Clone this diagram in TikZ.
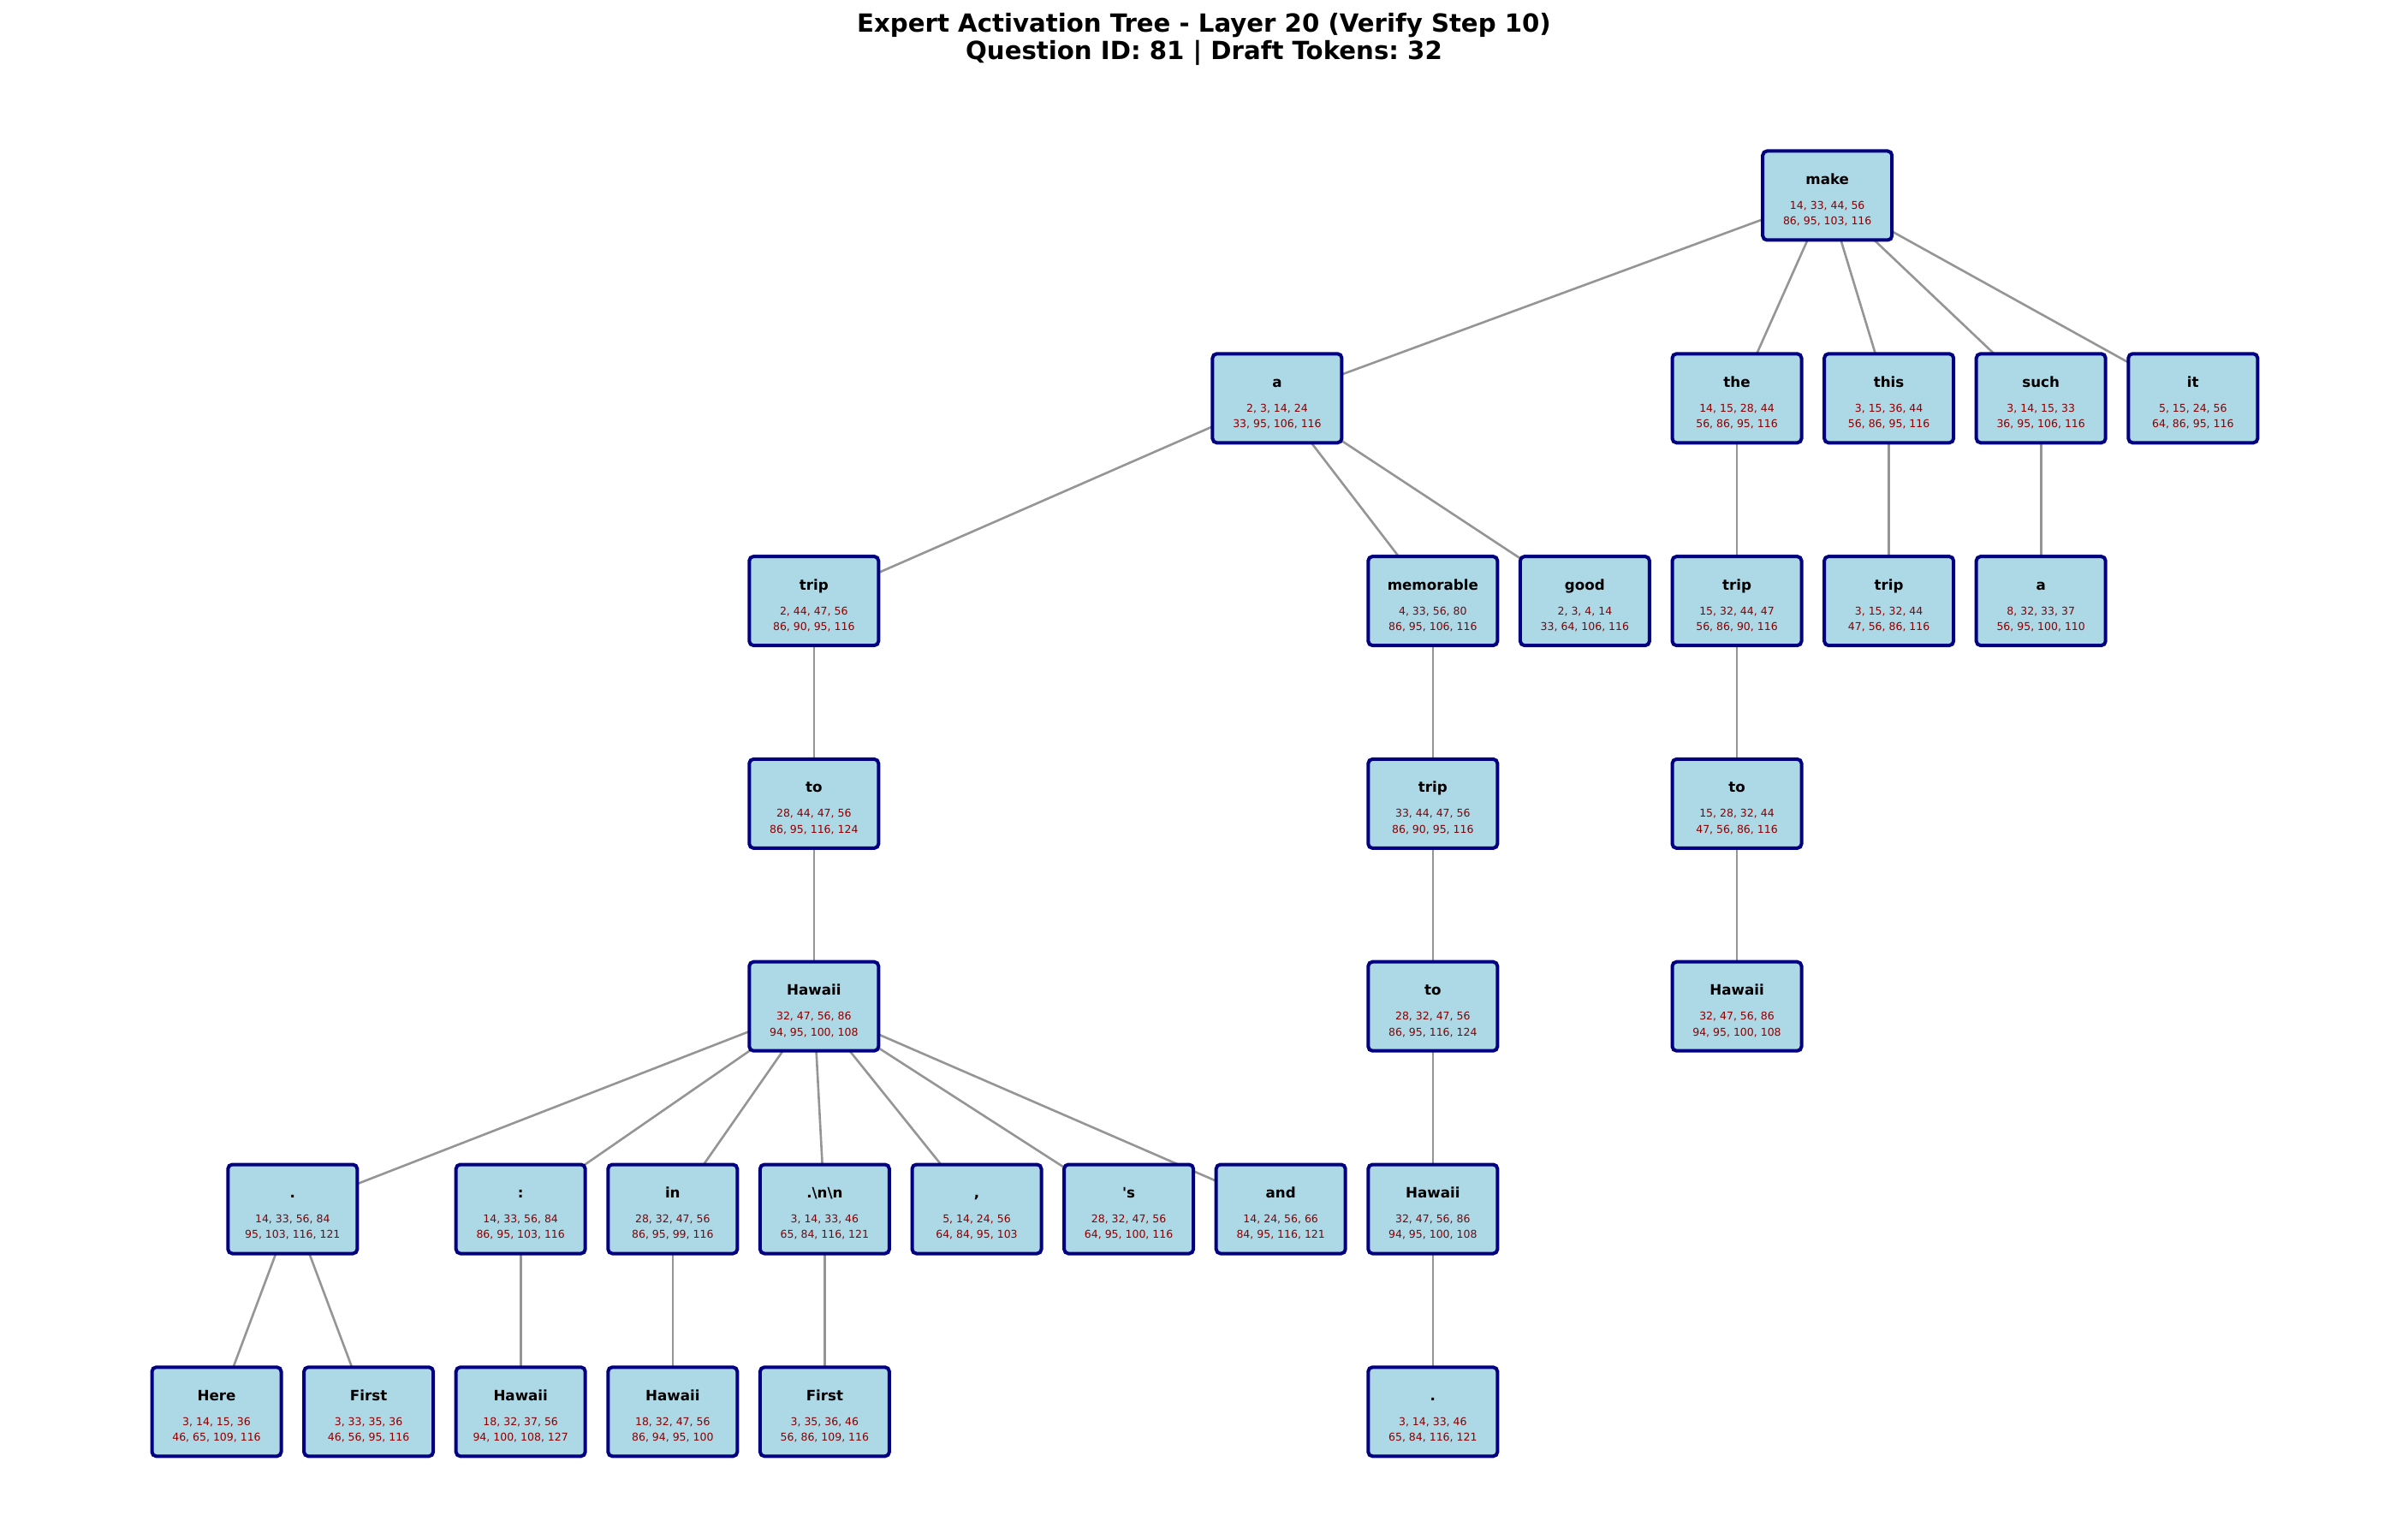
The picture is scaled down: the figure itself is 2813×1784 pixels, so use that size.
\documentclass[tikz,border=0pt]{standalone}
\usepackage{fontspec}
\setmainfont{DejaVu Sans}[Ligatures=TeXOff]
\usetikzlibrary{backgrounds}
\frenchspacing
\definecolor{boxfill}{HTML}{ADD8E6}
\definecolor{boxedge}{HTML}{000080}
\definecolor{numred}{HTML}{8B0000}
\definecolor{edgegray}{HTML}{959595}
\tikzset{
  tok/.style={draw=boxedge, fill=boxfill, line width=4pt, rounded corners=5pt,
    minimum width=151pt, minimum height=104pt, inner sep=0pt},
  wordlbl/.style={anchor=base, inner sep=0pt, font=\fontsize{16.7}{20}\selectfont\bfseries},
  numlbl/.style={anchor=base, inner sep=0pt, text=numred, font=\fontsize{12.5}{15}\selectfont},
  titlelbl/.style={anchor=base, inner sep=0pt, font=\fontsize{29.2}{35}\selectfont\bfseries},
  link/.style={draw=edgegray, line width=2.6pt}
}
% one token box: name, column, depth, token, two lines of expert ids
\newcommand{\tnode}[6]{%
  \node[tok] (#1) at ({253+177.6*#2},{228.5+236.8*#3}) {};
  \node[wordlbl] (#1w) at ([yshift=13pt]#1.center) {#4};
  \node[numlbl] (#1a) at ([yshift=-16pt]#1.center) {#5};
  \node[numlbl] (#1b) at ([yshift=-34.3pt]#1.center) {#6};}
\begin{document}
\begin{tikzpicture}[x=1pt,y=-1pt]
\useasboundingbox (0,0) rectangle (2813,1784);
\node[titlelbl] (title1) at (1406.5,37.5) {Expert Activation Tree - Layer 20 (Verify Step 10)};
\node[titlelbl] (title2) at (1406.5,69.5) {Question ID: 81 | Draft Tokens: 32};

\tnode{make}{10.595}{0}{make}{14, 33, 44, 56}{86, 95, 103, 116}

\tnode{a}{6.976}{1}{a}{2, 3, 14, 24}{33, 95, 106, 116}
\tnode{the}{10}{1}{the}{14, 15, 28, 44}{56, 86, 95, 116}
\tnode{this}{11}{1}{this}{3, 15, 36, 44}{56, 86, 95, 116}
\tnode{such}{12}{1}{such}{3, 14, 15, 33}{36, 95, 106, 116}
\tnode{it}{13}{1}{it}{5, 15, 24, 56}{64, 86, 95, 116}

\tnode{tripA}{3.929}{2}{trip}{2, 44, 47, 56}{86, 90, 95, 116}
\tnode{memorable}{8}{2}{memorable}{4, 33, 56, 80}{86, 95, 106, 116}
\tnode{good}{9}{2}{good}{2, 3, 4, 14}{33, 64, 106, 116}
\tnode{tripB}{10}{2}{trip}{15, 32, 44, 47}{56, 86, 90, 116}
\tnode{tripC}{11}{2}{trip}{3, 15, 32, 44}{47, 56, 86, 116}
\tnode{aB}{12}{2}{a}{8, 32, 33, 37}{56, 95, 100, 110}

\tnode{toA}{3.929}{3}{to}{28, 44, 47, 56}{86, 95, 116, 124}
\tnode{tripD}{8}{3}{trip}{33, 44, 47, 56}{86, 90, 95, 116}
\tnode{toB}{10}{3}{to}{15, 28, 32, 44}{47, 56, 86, 116}

\tnode{hawA}{3.929}{4}{Hawaii}{32, 47, 56, 86}{94, 95, 100, 108}
\tnode{toC}{8}{4}{to}{28, 32, 47, 56}{86, 95, 116, 124}
\tnode{hawB}{10}{4}{Hawaii}{32, 47, 56, 86}{94, 95, 100, 108}

\tnode{dotA}{0.5}{5}{.}{14, 33, 56, 84}{95, 103, 116, 121}
\tnode{colon}{2}{5}{:}{14, 33, 56, 84}{86, 95, 103, 116}
\tnode{in}{3}{5}{in}{28, 32, 47, 56}{86, 95, 99, 116}
\tnode{nn}{4}{5}{.\textbackslash n\textbackslash n}{3, 14, 33, 46}{65, 84, 116, 121}
\tnode{comma}{5}{5}{,}{5, 14, 24, 56}{64, 84, 95, 103}
\tnode{poss}{6}{5}{\textquotesingle s}{28, 32, 47, 56}{64, 95, 100, 116}
\tnode{and}{7}{5}{and}{14, 24, 56, 66}{84, 95, 116, 121}
\tnode{hawC}{8}{5}{Hawaii}{32, 47, 56, 86}{94, 95, 100, 108}

\tnode{here}{0}{6}{Here}{3, 14, 15, 36}{46, 65, 109, 116}
\tnode{firstA}{1}{6}{First}{3, 33, 35, 36}{46, 56, 95, 116}
\tnode{hawD}{2}{6}{Hawaii}{18, 32, 37, 56}{94, 100, 108, 127}
\tnode{hawE}{3}{6}{Hawaii}{18, 32, 47, 56}{86, 94, 95, 100}
\tnode{firstB}{4}{6}{First}{3, 35, 36, 46}{56, 86, 109, 116}
\tnode{dotB}{8}{6}{.}{3, 14, 33, 46}{65, 84, 116, 121}

\begin{scope}[on background layer]
  \foreach \p/\c in {make/a, make/the, make/this, make/such, make/it,
      a/tripA, a/memorable, a/good, the/tripB, this/tripC, such/aB,
      tripA/toA, memorable/tripD, tripB/toB,
      toA/hawA, tripD/toC, toB/hawB,
      hawA/dotA, hawA/colon, hawA/in, hawA/nn, hawA/comma, hawA/poss, hawA/and,
      toC/hawC,
      dotA/here, dotA/firstA, colon/hawD, in/hawE, nn/firstB, hawC/dotB}
    \draw[link] (\p.center) -- (\c.center);
\end{scope}
\end{tikzpicture}
\end{document}
